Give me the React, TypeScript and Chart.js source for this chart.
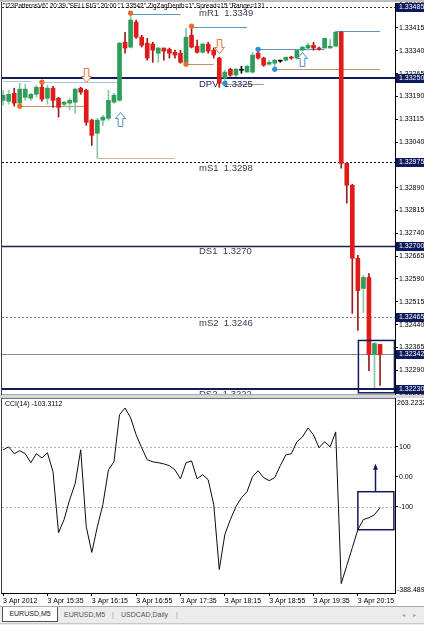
import React, { useEffect, useRef } from 'react';
import { Chart, registerables } from 'chart.js';

Chart.register(...registerables);

// ---------- data ----------
const timeLabels = ['3 Apr 2012', '3 Apr 15:35', '3 Apr 16:15', '3 Apr 16:55', '3 Apr 17:35', '3 Apr 18:15', '3 Apr 18:55', '3 Apr 19:35', '3 Apr 20:15'];
const barsPerTimeLabel = 8;

const opens = [1.33177, 1.33174, 1.332, 1.33168, 1.33187, 1.33184, 1.33197, 1.3322, 1.33184, 1.33217, 1.33184, 1.33164, 1.33168, 1.33171, 1.33217, 1.3321, 1.33112, 1.33069, 1.33112, 1.33118, 1.33171, 1.33177, 1.33368, 1.33352, 1.33434, 1.33385, 1.33365, 1.33362, 1.33332, 1.33349, 1.33345, 1.33335, 1.33332, 1.33302, 1.33391, 1.33355, 1.33335, 1.33362, 1.33342, 1.33316, 1.3325, 1.33279, 1.3326, 1.33276, 1.3327, 1.3327, 1.33332, 1.33316, 1.33296, 1.33299, 1.33306, 1.33309, 1.33319, 1.33316, 1.33342, 1.33349, 1.33358, 1.33349, 1.33349, 1.33349, 1.33355, 1.33401, 1.3297, 1.32898, 1.32658, 1.32559, 1.32595, 1.32342, 1.32375];
const highs = [1.3321, 1.3321, 1.33217, 1.33233, 1.3323, 1.332, 1.33227, 1.33237, 1.33227, 1.33223, 1.33187, 1.33174, 1.33184, 1.33217, 1.3322, 1.33214, 1.33115, 1.33118, 1.33128, 1.3321, 1.332, 1.33368, 1.33401, 1.33464, 1.33441, 1.33391, 1.33381, 1.33368, 1.33352, 1.33349, 1.33349, 1.33342, 1.33342, 1.33414, 1.33421, 1.33375, 1.33365, 1.33368, 1.33349, 1.33319, 1.33276, 1.33283, 1.33283, 1.33289, 1.33293, 1.33335, 1.33345, 1.33319, 1.33309, 1.33312, 1.33309, 1.33319, 1.33322, 1.33345, 1.33355, 1.33365, 1.33368, 1.33352, 1.33381, 1.33378, 1.33404, 1.33404, 1.32973, 1.32901, 1.32668, 1.32602, 1.32608, 1.32381, 1.32375];
const lows = [1.33161, 1.33164, 1.33158, 1.33154, 1.33177, 1.33177, 1.33187, 1.33174, 1.33164, 1.33154, 1.33122, 1.33158, 1.33145, 1.33135, 1.33197, 1.33095, 1.33029, 1.32987, 1.33095, 1.33112, 1.33168, 1.33174, 1.33332, 1.33349, 1.33381, 1.33352, 1.33309, 1.33302, 1.33302, 1.33309, 1.33316, 1.33316, 1.33299, 1.33296, 1.33349, 1.33332, 1.33332, 1.33332, 1.33316, 1.3322, 1.33233, 1.33256, 1.33256, 1.33266, 1.3327, 1.33266, 1.33312, 1.33289, 1.33293, 1.33279, 1.33302, 1.33306, 1.33312, 1.33312, 1.33339, 1.33342, 1.33342, 1.33342, 1.33349, 1.33349, 1.33355, 1.32954, 1.32839, 1.32477, 1.32421, 1.3248, 1.32289, 1.32233, 1.3224];
const closes = [1.33194, 1.33197, 1.33168, 1.33214, 1.33214, 1.33197, 1.3322, 1.33181, 1.33217, 1.33177, 1.33154, 1.33171, 1.33177, 1.33214, 1.33204, 1.33105, 1.33062, 1.33112, 1.33122, 1.33177, 1.33194, 1.33365, 1.33349, 1.33441, 1.33385, 1.33358, 1.33316, 1.33342, 1.33349, 1.33339, 1.33332, 1.33326, 1.33302, 1.33385, 1.33352, 1.33335, 1.33362, 1.33339, 1.33326, 1.33233, 1.3327, 1.3326, 1.33279, 1.33276, 1.33289, 1.33326, 1.33316, 1.33293, 1.33302, 1.33309, 1.33306, 1.33319, 1.33316, 1.33342, 1.33352, 1.33358, 1.33349, 1.33345, 1.33381, 1.33355, 1.33401, 1.3297, 1.32898, 1.32658, 1.32552, 1.32595, 1.32342, 1.32378, 1.32342];

const cciValues = [90, 100, 77, 87, 77, 47, 77, 63, 80, 17, -187, -143, -77, -23, 90, -167, -253, -167, -93, 23, 50, 207, 230, 197, 140, 97, 57, 50, 47, 43, 37, 23, -7, 47, 53, -7, 7, -10, -93, -310, -193, -143, -100, -70, -50, 0, 20, -3, -13, -3, 37, 73, 77, 117, 133, 163, 140, 97, 117, 100, 150, -357, -297, -237, -177, -143, -137, -127, -103.3112];
const cciTicks = [100, 0, -100];
const cciLevels = [100, -100];
const cciMax = 263.2232;
const cciMin = -388.489;

const priceTicks = [1.3349, 1.33415, 1.3334, 1.33265, 1.3319, 1.33115, 1.3304, 1.32965, 1.3289, 1.32815, 1.3274, 1.32665, 1.3259, 1.32515, 1.3244, 1.32365, 1.3229, 1.32215];
const priceMin = 1.32212;
const priceMax = 1.33497;
const bidPrice = 1.32342;

const levelNames = ['mR1', 'DPV', 'mS1', 'DS1', 'mS2', 'DS2'];
const levelValues = [1.33485, 1.3325, 1.32975, 1.327, 1.32465, 1.3223];
const levelDisplay = ['1.3349', '1.3325', '1.3298', '1.3270', '1.3246', '1.3222'];

// zigzag pattern level segments: start bar, end bar, price, kind
const zzStart = [0, 7, 3, 17, 23, 34, 33, 40, 46, 49, 60];
const zzEnd = [5, 21, 15, 31, 32, 44, 38, 47, 58, 68, 68];
const zzPrice = [1.3324, 1.33237, 1.33158, 1.32987, 1.3346, 1.33418, 1.33296, 1.3323, 1.33345, 1.33279, 1.33404];
const zzKind = ['highOld', 'highOld', 'low', 'lowOld', 'high', 'high', 'low', 'low', 'high', 'low', 'high'];

// zigzag swing points
const dotBar = [3, 7, 23, 33, 34, 40, 46, 49];
const dotPrice = [1.33158, 1.33237, 1.33464, 1.33296, 1.33421, 1.33233, 1.33345, 1.33279];
const dotKind = ['sell', 'sell', 'sell', 'sell', 'sell', 'buy', 'buy', 'buy'];

// pattern arrows: bar, tip price, direction
const arrowBar = [15, 21, 39, 54];
const arrowPrice = [1.33237, 1.33138, 1.33332, 1.33335];
const arrowDir = ['down', 'up', 'down', 'up'];

// hand-drawn annotation boxes
const mainBoxBars = [64.1, 70.6];
const mainBoxPrices = [1.32388, 1.32216];
const cciBoxBars = [64.0, 70.5];
const cciBoxValues = [-50, -177];
const cciArrowBar = 67.1;
const cciArrowValues = [-50, 40];

const titleText = '"I23PatternsV6" 20:39 "SELLSIG" 20:00 "1.33542" ZigZagDepth=1" Spread=15 "Range=131';
const cciTitle = 'CCI(14) -103.3112';
const tabNames = ['EURUSD,M5', 'EURUSD,M5', 'USDCAD,Daily'];

// ---------- styles ----------
const FONT = '"Liberation Sans", Arial, sans-serif';
const X_MIN = -0.2;
const X_MAX = 70.7;
const AXIS_W = 29;
const GREEN = '#2e9c5a';
const GREEN_WICK = '#86c9a2';
const RED = '#e21a1a';
const RED_WICK = '#9a1c1c';
const NAVY = '#0d1a5e';

const levelStyle: Record<string, { color: string; width: number; dash: number[] }> = {
  mR1: { color: '#303040', width: 1, dash: [2, 2] },
  DPV: { color: '#141a5a', width: 2, dash: [] },
  mS1: { color: '#101010', width: 1, dash: [2, 2] },
  DS1: { color: '#1e2040', width: 1.5, dash: [] },
  mS2: { color: '#808080', width: 1, dash: [2, 2] },
  DS2: { color: '#141a5a', width: 2, dash: [] },
};
const zzColor: Record<string, string> = {
  high: '#5e93bb',
  highOld: '#a9c8e2',
  low: '#c09070',
  lowOld: '#d6b498',
};
const dotColor: Record<string, string> = { sell: '#ee6a1e', buy: '#2f8fe0' };

function fixWidth(s: any) {
  s.width = AXIS_W;
  s.paddingTop = 0;
  s.paddingBottom = 0;
}

function drawArrow(ctx: CanvasRenderingContext2D, cx: number, tipY: number, dir: string) {
  const s = dir === 'down' ? 1 : -1;
  const hw = 5, sw = 2.3, headH = 6, total = 14;
  ctx.beginPath();
  ctx.moveTo(cx, tipY);
  ctx.lineTo(cx - hw, tipY - s * headH);
  ctx.lineTo(cx - sw, tipY - s * headH);
  ctx.lineTo(cx - sw, tipY - s * total);
  ctx.lineTo(cx + sw, tipY - s * total);
  ctx.lineTo(cx + sw, tipY - s * headH);
  ctx.lineTo(cx + hw, tipY - s * headH);
  ctx.closePath();
  ctx.fillStyle = dir === 'down' ? '#fff4ee' : '#ffffff';
  ctx.fill();
  ctx.lineWidth = 1;
  ctx.strokeStyle = dir === 'down' ? '#e07a48' : '#4a8fd0';
  ctx.stroke();
}

export default function App() {
  const mainRef = useRef<HTMLCanvasElement>(null);
  const cciRef = useRef<HTMLCanvasElement>(null);

  useEffect(() => {
    document.body.style.margin = '0';
    const idx = opens.map((_, i) => i);
    const isFlat = (i: number) => opens[i] === closes[i];
    const isUp = (i: number) => closes[i] > opens[i];
    const bodyColors = idx.map((i) => (isFlat(i) ? '#000' : isUp(i) ? GREEN : RED));
    const wickColors = idx.map((i) => (isFlat(i) ? '#000' : isUp(i) ? GREEN_WICK : RED_WICK));

    const mainOverlay = {
      id: 'mainOverlay',
      beforeDatasetsDraw(chart: any) {
        const { ctx, chartArea: a, scales } = chart;
        const x = scales.x, y = scales.y;
        ctx.save();
        ctx.beginPath();
        ctx.rect(a.left, a.top, a.right - a.left, a.bottom - a.top);
        ctx.clip();
        levelValues.forEach((v, k) => {
          const st = levelStyle[levelNames[k]];
          const py = Math.round(y.getPixelForValue(v)) + (st.width === 2 ? 0 : 0.5);
          ctx.strokeStyle = st.color;
          ctx.lineWidth = st.width;
          ctx.setLineDash(st.dash);
          ctx.beginPath();
          ctx.moveTo(a.left, py);
          ctx.lineTo(a.right, py);
          ctx.stroke();
        });
        ctx.setLineDash([]);
        const by = Math.round(y.getPixelForValue(bidPrice)) + 0.5;
        ctx.strokeStyle = '#8c8c8c';
        ctx.lineWidth = 1;
        ctx.beginPath();
        ctx.moveTo(a.left, by);
        ctx.lineTo(a.right, by);
        ctx.stroke();
        zzStart.forEach((s, k) => {
          const py = Math.round(y.getPixelForValue(zzPrice[k])) + 0.5;
          ctx.strokeStyle = zzColor[zzKind[k]];
          ctx.lineWidth = 1;
          ctx.beginPath();
          ctx.moveTo(x.getPixelForValue(s), py);
          ctx.lineTo(x.getPixelForValue(zzEnd[k]), py);
          ctx.stroke();
        });
        ctx.font = '9.5px ' + FONT;
        ctx.textBaseline = 'top';
        ctx.textAlign = 'left';
        levelValues.forEach((v, k) => {
          const py = y.getPixelForValue(v);
          ctx.fillStyle = levelNames[k] === 'DPV' ? '#1c2266' : '#3a3a50';
          ctx.fillText(levelNames[k] + '  ' + levelDisplay[k], 199, py + 1.5);
        });
        ctx.restore();
      },
      afterDatasetsDraw(chart: any) {
        const { ctx, chartArea: a, scales } = chart;
        const x = scales.x, y = scales.y;
        ctx.save();
        ctx.beginPath();
        ctx.rect(a.left, a.top, a.right - a.left, a.bottom - a.top);
        ctx.clip();
        dotBar.forEach((b, k) => {
          ctx.fillStyle = dotColor[dotKind[k]];
          ctx.beginPath();
          ctx.arc(x.getPixelForValue(b), y.getPixelForValue(dotPrice[k]), 2.6, 0, Math.PI * 2);
          ctx.fill();
        });
        arrowBar.forEach((b, k) => {
          drawArrow(ctx, Math.round(x.getPixelForValue(b)) + 0.5, Math.round(y.getPixelForValue(arrowPrice[k])) + 0.5, arrowDir[k]);
        });
        const bx1 = x.getPixelForValue(mainBoxBars[0]);
        const bx2 = x.getPixelForValue(mainBoxBars[1]);
        const by1 = y.getPixelForValue(mainBoxPrices[0]);
        const by2 = y.getPixelForValue(mainBoxPrices[1]);
        ctx.strokeStyle = '#121a5a';
        ctx.lineWidth = 1.5;
        ctx.strokeRect(bx1, by1, bx2 - bx1, by2 - by1);
        ctx.restore();
      },
      afterDraw(chart: any) {
        const { ctx, chartArea: a, scales } = chart;
        const y = scales.y;
        ctx.save();
        ctx.fillStyle = '#bdbdbd';
        ctx.fillRect(0, 0, 424, 2);
        ctx.fillStyle = '#3c3c50';
        ctx.fillRect(1, 2, 1, 393);
        ctx.fillStyle = '#a8a8b0';
        ctx.fillRect(2, a.bottom, a.right - 2, 1);
        ctx.font = '7px ' + FONT;
        ctx.textBaseline = 'middle';
        ctx.textAlign = 'left';
        const boxes = levelValues.concat([bidPrice]);
        boxes.forEach((v) => {
          const py = Math.round(y.getPixelForValue(v));
          ctx.fillStyle = NAVY;
          ctx.fillRect(a.right + 1, py - 4, 424 - a.right - 1, 9);
          ctx.fillStyle = '#ffffff';
          ctx.fillText(v.toFixed(5), a.right + 4, py + 0.5);
        });
        ctx.fillStyle = '#000';
        ctx.font = '6.4px ' + FONT;
        ctx.textBaseline = 'top';
        ctx.fillText(titleText, 3, 3);
        ctx.restore();
      },
    };

    const main = new Chart(mainRef.current!, {
      type: 'bar',
      data: {
        datasets: [
          {
            label: 'wick',
            data: idx.map((i) => ({ x: i, y: [lows[i], highs[i]] })) as any,
            backgroundColor: wickColors,
            barThickness: 1,
            grouped: false,
            order: 2,
          },
          {
            label: 'body',
            data: idx.map((i) => ({ x: i, y: [opens[i], closes[i]] })) as any,
            backgroundColor: bodyColors,
            barThickness: 4,
            minBarLength: 1,
            grouped: false,
            order: 1,
          },
        ],
      },
      options: {
        animation: false,
        responsive: false,
        maintainAspectRatio: false,
        layout: { padding: { top: 3, left: 2, right: 0, bottom: 1 } },
        plugins: { legend: { display: false }, tooltip: { enabled: false } },
        scales: {
          x: { type: 'linear', min: X_MIN, max: X_MAX, offset: false, display: false },
          y: {
            type: 'linear',
            position: 'right',
            min: priceMin,
            max: priceMax,
            afterBuildTicks: (s: any) => {
              s.ticks = priceTicks.map((v) => ({ value: v }));
            },
            afterFit: fixWidth,
            ticks: {
              callback: (v: any) => Number(v).toFixed(5),
              font: { family: FONT, size: 7 },
              color: '#000',
              padding: 1,
            },
            grid: { drawOnChartArea: false, drawTicks: true, tickLength: 3, color: '#000' },
            border: { display: true, color: '#000', width: 1 },
          },
        },
      },
      plugins: [mainOverlay],
    } as any);

    const cciOverlay = {
      id: 'cciOverlay',
      beforeDatasetsDraw(chart: any) {
        const { ctx, chartArea: a, scales } = chart;
        const y = scales.y;
        ctx.save();
        ctx.strokeStyle = '#b4b4b4';
        ctx.lineWidth = 1;
        ctx.setLineDash([2, 2]);
        cciLevels.forEach((v) => {
          const py = Math.round(y.getPixelForValue(v)) + 0.5;
          ctx.beginPath();
          ctx.moveTo(a.left, py);
          ctx.lineTo(a.right, py);
          ctx.stroke();
        });
        ctx.restore();
      },
      afterDraw(chart: any) {
        const { ctx, chartArea: a, scales } = chart;
        const x = scales.x, y = scales.y;
        ctx.save();
        ctx.fillStyle = '#d6d6d6';
        ctx.fillRect(0, 0, 424, 3);
        ctx.fillStyle = '#707078';
        ctx.fillRect(1, a.top, a.right - 1, 1);
        ctx.fillStyle = '#3c3c50';
        ctx.fillRect(1, a.top, 1, a.bottom - a.top + 1);
        ctx.fillStyle = '#000';
        ctx.font = '7px ' + FONT;
        ctx.textBaseline = 'top';
        ctx.textAlign = 'left';
        ctx.fillText(cciTitle, 5, a.top + 3);
        ctx.textBaseline = 'middle';
        ctx.fillText(cciMax.toFixed(4), a.right + 2, a.top + 5);
        ctx.fillText(cciMin.toFixed(3), a.right + 2, a.bottom - 3);
        const bx1 = x.getPixelForValue(cciBoxBars[0]);
        const bx2 = x.getPixelForValue(cciBoxBars[1]);
        const by1 = y.getPixelForValue(cciBoxValues[0]);
        const by2 = y.getPixelForValue(cciBoxValues[1]);
        ctx.strokeStyle = '#121a5a';
        ctx.lineWidth = 1.5;
        ctx.strokeRect(bx1, by1, bx2 - bx1, by2 - by1);
        const ax = Math.round(x.getPixelForValue(cciArrowBar)) + 0.5;
        const ay1 = y.getPixelForValue(cciArrowValues[0]);
        const ay2 = y.getPixelForValue(cciArrowValues[1]);
        ctx.beginPath();
        ctx.moveTo(ax, ay1);
        ctx.lineTo(ax, ay2 + 2);
        ctx.stroke();
        ctx.fillStyle = '#121a5a';
        ctx.beginPath();
        ctx.moveTo(ax, ay2 - 1);
        ctx.lineTo(ax - 2.5, ay2 + 5);
        ctx.lineTo(ax + 2.5, ay2 + 5);
        ctx.closePath();
        ctx.fill();
        ctx.restore();
      },
    };

    const cci = new Chart(cciRef.current!, {
      type: 'line',
      data: {
        datasets: [
          {
            label: 'CCI(14)',
            data: idx.map((i) => ({ x: i, y: cciValues[i] })),
            borderColor: '#0a0a1a',
            borderWidth: 1,
            pointRadius: 0,
            tension: 0,
          },
        ],
      },
      options: {
        animation: false,
        responsive: false,
        maintainAspectRatio: false,
        layout: { padding: { top: 3, left: 2, right: 0, bottom: 0 } },
        plugins: { legend: { display: false }, tooltip: { enabled: false } },
        scales: {
          x: {
            type: 'linear',
            min: X_MIN,
            max: X_MAX,
            offset: false,
            afterBuildTicks: (s: any) => {
              s.ticks = timeLabels.map((_, k) => ({ value: k * barsPerTimeLabel }));
            },
            afterFit: (s: any) => {
              s.height = 13;
              s.paddingLeft = 0;
              s.paddingRight = 0;
            },
            ticks: {
              autoSkip: false,
              maxRotation: 0,
              align: 'start',
              padding: 1,
              callback: (v: any) => timeLabels[Math.round(Number(v) / barsPerTimeLabel)],
              font: { family: FONT, size: 7 },
              color: '#000',
            },
            grid: { drawOnChartArea: false, drawTicks: true, tickLength: 3, color: '#000' },
            border: { display: true, color: '#000', width: 1 },
          },
          y: {
            type: 'linear',
            position: 'right',
            min: cciMin,
            max: cciMax,
            afterBuildTicks: (s: any) => {
              s.ticks = cciTicks.map((v) => ({ value: v }));
            },
            afterFit: fixWidth,
            ticks: {
              callback: (v: any) => (Number(v) === 0 ? '0.00' : String(v)),
              font: { family: FONT, size: 7 },
              color: '#000',
              padding: 1,
            },
            grid: { drawOnChartArea: false, drawTicks: true, tickLength: 3, color: '#000' },
            border: { display: true, color: '#000', width: 1 },
          },
        },
      },
      plugins: [cciOverlay],
    } as any);

    return () => {
      main.destroy();
      cci.destroy();
    };
  }, []);

  const tabFont = { fontFamily: FONT, fontSize: 7, color: '#202020', lineHeight: '14px' };
  return (
    <div style={{ position: 'relative', width: 424, height: 625, background: '#fff', overflow: 'hidden' }}>
      <canvas ref={mainRef} width={424} height={395} style={{ position: 'absolute', left: 0, top: 0, width: 424, height: 395 }} />
      <canvas ref={cciRef} width={424} height={211} style={{ position: 'absolute', left: 0, top: 395, width: 424, height: 211 }} />
      <div style={{ position: 'absolute', left: 0, top: 606, width: 424, height: 19, background: '#ececec', borderTop: '1px solid #a8a8a8' }}>
        <div style={{ position: 'absolute', left: 2, top: 0, width: 54, height: 14, background: '#fff', border: '1px solid #505050', borderTop: 'none', textAlign: 'center', ...tabFont }}>
          {tabNames[0]}
        </div>
        <div style={{ position: 'absolute', left: 64, top: 1, ...tabFont, color: '#555' }}>{tabNames[1]}</div>
        <div style={{ position: 'absolute', left: 112, top: 1, ...tabFont, color: '#999' }}>|</div>
        <div style={{ position: 'absolute', left: 121, top: 1, ...tabFont, color: '#555' }}>{tabNames[2]}</div>
        <div style={{ position: 'absolute', left: 176, top: 1, ...tabFont, color: '#999' }}>|</div>
        <div style={{ position: 'absolute', left: 402, top: 1, fontFamily: '"DejaVu Sans"', fontSize: 6, color: '#999', lineHeight: '14px' }}>◂</div>
        <div style={{ position: 'absolute', left: 413, top: 1, fontFamily: '"DejaVu Sans"', fontSize: 6, color: '#999', lineHeight: '14px' }}>▸</div>
        <div style={{ position: 'absolute', left: 0, top: 16, width: 424, height: 1, background: '#c8c8c8' }} />
      </div>
    </div>
  );
}
